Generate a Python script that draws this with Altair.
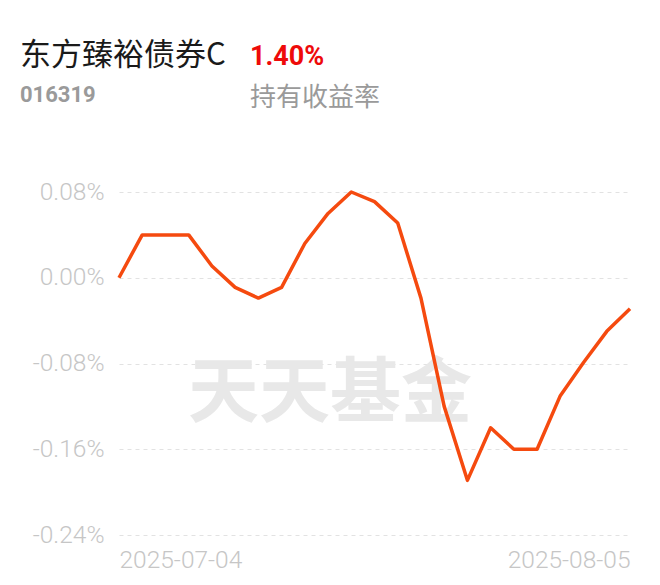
import altair as alt
import pandas as pd

# ---- data ----
dates = [
    "2025-07-04", "2025-07-07", "2025-07-08", "2025-07-09", "2025-07-10", "2025-07-11",
    "2025-07-14", "2025-07-15", "2025-07-16", "2025-07-17", "2025-07-18",
    "2025-07-21", "2025-07-22", "2025-07-23", "2025-07-24", "2025-07-25",
    "2025-07-28", "2025-07-29", "2025-07-30", "2025-07-31", "2025-08-01",
    "2025-08-04", "2025-08-05",
]
returns = [
    0.000, 0.040, 0.040, 0.040, 0.011, -0.009,
    -0.019, -0.009, 0.032, 0.060, 0.080,
    0.071, 0.051, -0.019, -0.120, -0.189,
    -0.140, -0.160, -0.160, -0.110, -0.079,
    -0.050, -0.029,
]
y_ticks = [-0.24, -0.16, -0.08, 0.0, 0.08]
x_ticks = ["2025-07-04", "2025-08-05"]
fund_name = ["东方臻裕债券C"]
fund_code = ["016319"]
holding_return = ["1.40%"]
return_label = ["持有收益率"]
watermark = ["天天基金"]

df = pd.DataFrame({"date": dates, "ret": returns})

LABEL_COLOR = "#c6c6c6"

line = alt.Chart(df).mark_line(color="#f54a0f", strokeWidth=3.5, strokeJoin="round").encode(
    x=alt.X(
        "date:O",
        sort=None,
        scale=alt.Scale(type="point", padding=0),
        axis=alt.Axis(
            values=x_ticks, labelAngle=0, labelFlush=True, ticks=False, domain=False,
            grid=False, title=None, labelFontSize=24.5, labelColor=LABEL_COLOR,
            labelPadding=13, labelFont="Roboto", labelFontWeight=300,
        ),
    ),
    y=alt.Y(
        "ret:Q",
        scale=alt.Scale(domain=[-0.24, 0.08], nice=False, zero=False),
        axis=alt.Axis(
            values=y_ticks,
            labelExpr="(datum.value < -0.0001 ? '-' : '') + format(abs(datum.value), '.2f') + '%'",
            grid=True, gridDash=[4, 4], gridColor="#e2e2e2", gridWidth=1,
            ticks=False, domain=False, title=None, labelPadding=15,
            labelFontSize=24.5, labelColor=LABEL_COLOR, labelFont="Roboto", labelFontWeight=300,
        ),
    ),
)

wm = alt.Chart(pd.DataFrame({"t": watermark})).mark_text(
    fontSize=71, fontWeight="bold", font="Noto Sans CJK SC", color="#e8e8e8",
    align="center", baseline="middle",
).encode(x=alt.value(211), y=alt.value(203), text="t:N")

def header(texts, x, y, size, color, weight="normal", font="Noto Sans CJK SC"):
    return alt.Chart(pd.DataFrame({"t": texts})).mark_text(
        fontSize=size, fontWeight=weight, font=font, color=color,
        align="left", baseline="middle",
    ).encode(x=alt.value(x), y=alt.value(y), text="t:N")

t1 = header(fund_name, -99, -136, 31, "#1a1a1a")
t2 = header(holding_return, 131, -135, 27, "#ee0a0a", weight="bold", font="Roboto")
t3 = header(fund_code, -99, -97, 22, "#9a9a9a", weight="bold", font="Roboto")
t4 = header(return_label, 131, -94, 26, "#9a9a9a")

chart = alt.layer(wm, line, t1, t2, t3, t4).properties(
    width=511,
    height=343,
    padding={"left": 111, "top": 184, "right": 20, "bottom": 40},
    autosize=alt.AutoSizeParams(type="none"),
    background="white",
).configure_view(stroke=None)

chart.save("out.html", embed_options={"renderer": "svg", "actions": False})
